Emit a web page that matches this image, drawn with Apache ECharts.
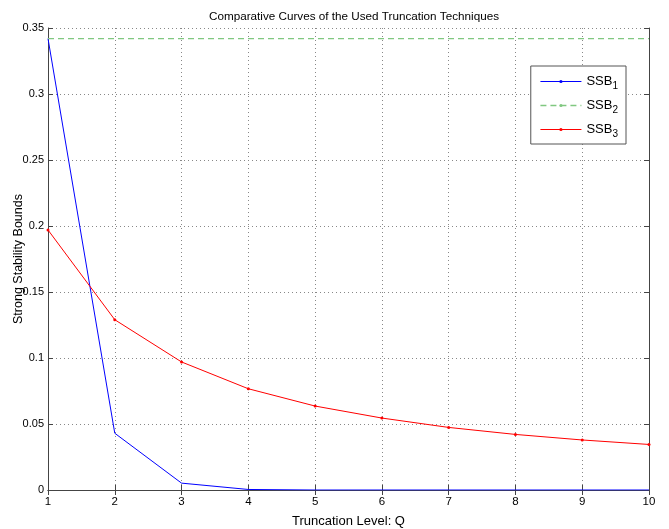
<!DOCTYPE html>
<html>
<head>
<meta charset="utf-8">
<script src="https://cdn.jsdelivr.net/npm/echarts@6/dist/echarts.min.js"></script>
<style>html,body{margin:0;padding:0;background:#fff}#c{width:669px;height:529px}</style>
</head>
<body>
<div id="c"></div>
<script>
const levels = [1, 2, 3, 4, 5, 6, 7, 8, 9, 10];
const ssb1 = [0.342, 0.043, 0.0052, 0.0004, 0.0, 0.0, 0.0, 0.0, 0.0, 0.0];
const ssb2 = [0.342, 0.342, 0.342, 0.342, 0.342, 0.342, 0.342, 0.342, 0.342, 0.342];
const ssb3 = [0.197, 0.129, 0.097, 0.0767, 0.0636, 0.0545, 0.0474, 0.0421, 0.0379, 0.0345];
const seriesNames = ['SSB1', 'SSB2', 'SSB3'];
const seriesColors = ['#0000ff', '#80c880', '#ff0000'];

const pair = (ys) => levels.map((x, i) => [x, ys[i]]);
const FONT = 'Liberation Sans, Arial, sans-serif';
const gridLine = { show: true, lineStyle: { color: '#888', type: [1, 3], width: 1 } };
const axLine = { show: true, lineStyle: { color: '#444', width: 1 } };

const chart = echarts.init(document.getElementById('c'), null, { renderer: 'canvas' });
chart.setOption({
  animation: false,
  backgroundColor: '#fff',
  title: {
    text: 'Comparative Curves of the Used Truncation Techniques',
    left: 349, top: 6, textAlign: 'center',
    textStyle: { fontFamily: FONT, fontSize: 11.7, fontWeight: 'normal', color: '#000' }
  },
  grid: { left: 48, right: 20, top: 28, bottom: 39, containLabel: false, outerBoundsMode: 'none' },
  legend: {
    orient: 'vertical', right: 43, top: 66,
    backgroundColor: '#fff', borderColor: '#555', borderWidth: 1,
    padding: [9, 8, 5, 9], itemGap: 8, itemWidth: 41, itemHeight: 4,
    data: [
      { name: seriesNames[0], itemStyle: { color: seriesColors[0], borderWidth: 0 }, lineStyle: { color: seriesColors[0], width: 1 } },
      { name: seriesNames[1], itemStyle: { color: seriesColors[1], borderWidth: 0 }, lineStyle: { color: seriesColors[1], width: 1.3, type: [6, 4] } },
      { name: seriesNames[2], itemStyle: { color: seriesColors[2], borderWidth: 0 }, lineStyle: { color: seriesColors[2], width: 1 } }
    ],
    formatter: (n) => '{a|SSB}{s|' + n.slice(3) + '}',
    textStyle: {
      fontFamily: FONT, color: '#000', padding: [0, 0, 0, 0],
      rich: {
        a: { fontFamily: FONT, fontSize: 13, color: '#000' },
        s: { fontFamily: FONT, fontSize: 10, color: '#000', padding: [9, 0, 0, 0] }
      }
    }
  },
  xAxis: [{
    type: 'value', min: 1, max: 10, interval: 1,
    name: 'Truncation Level: Q', nameLocation: 'middle', nameGap: 25, nameMoveOverlap: false,
    nameTextStyle: { fontFamily: FONT, fontSize: 13, color: '#000' },
    axisLine: axLine,
    axisTick: { show: true, inside: true, length: 5, lineStyle: { color: '#444' } },
    axisLabel: { fontFamily: FONT, fontSize: 11.5, color: '#000', margin: 6 },
    splitLine: gridLine
  }, {
    type: 'value', min: 1, max: 10, interval: 1, position: 'top',
    axisLine: axLine,
    axisTick: { show: true, inside: true, length: 5, lineStyle: { color: '#444' } },
    axisLabel: { show: false }, splitLine: { show: false }
  }],
  yAxis: [{
    type: 'value', min: 0, max: 0.35, interval: 0.05,
    name: 'Strong Stability Bounds', nameLocation: 'middle', nameGap: 23, nameMoveOverlap: false,
    nameTextStyle: { fontFamily: FONT, fontSize: 12.5, color: '#000' },
    axisLine: axLine,
    axisTick: { show: true, inside: true, length: 5, lineStyle: { color: '#444' } },
    axisLabel: { fontFamily: FONT, fontSize: 11, color: '#000', margin: 4 },
    splitLine: gridLine
  }, {
    type: 'value', min: 0, max: 0.35, interval: 0.05, position: 'right',
    axisLine: axLine,
    axisTick: { show: true, inside: true, length: 5, lineStyle: { color: '#444' } },
    axisLabel: { show: false }, splitLine: { show: false }
  }],
  series: [
    { name: 'SSB1', type: 'line', data: pair(ssb1), showSymbol: false, symbol: 'none',
      lineStyle: { color: seriesColors[0], width: 1 }, itemStyle: { color: seriesColors[0] } },
    { name: 'SSB2', type: 'line', data: pair(ssb2), showSymbol: false, symbol: 'none',
      lineStyle: { color: seriesColors[1], width: 1.3, type: [6, 4] }, itemStyle: { color: seriesColors[1] } },
    { name: 'SSB3', type: 'line', data: pair(ssb3), symbol: 'circle', symbolSize: 3, showSymbol: true,
      lineStyle: { color: seriesColors[2], width: 1 }, itemStyle: { color: seriesColors[2] } }
  ]
});
</script>
</body>
</html>
